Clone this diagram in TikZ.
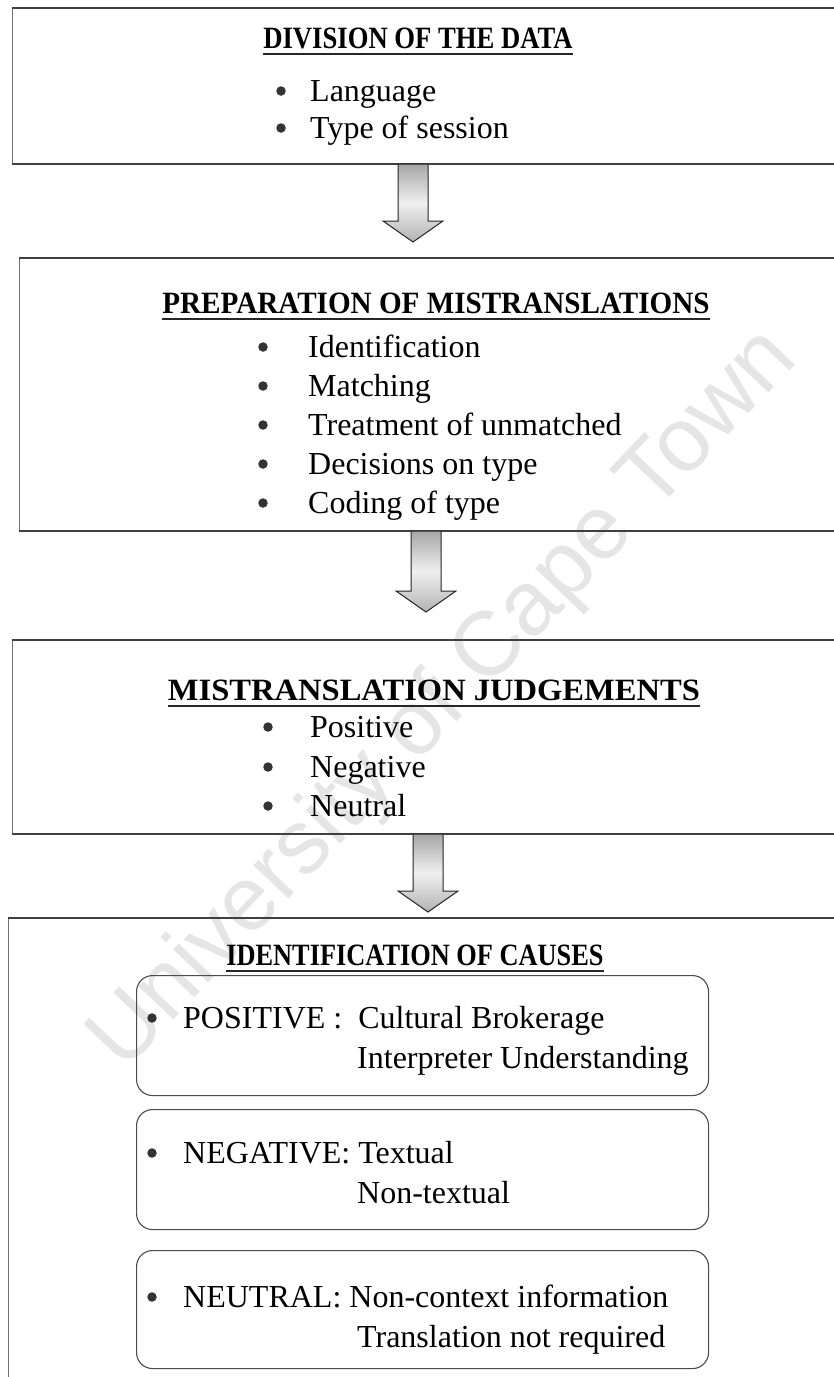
\documentclass[tikz,border=0pt]{standalone}
\usepackage{fontspec}
\setmainfont{Liberation Serif}
\newfontfamily\wmfont{Liberation Sans}
\usetikzlibrary{calc}
\newcommand\blockarrow[2]{%
  \path[arrowfill] let \p1=(#1), \p2=(#2) in
    (\x1-15pt,\y1) -- (\x1+15pt,\y1) -- (\x1+15pt,\y2+21pt) -- (\x1+30pt,\y2+21pt)
    -- (\x2,\y2) -- (\x1-30pt,\y2+21pt) -- (\x1-15pt,\y2+21pt) -- cycle;}
\begin{document}
\begin{tikzpicture}[x=1pt,y=-1pt,
  frame/.style={draw=black!55, line width=1pt, rectangle, inner sep=0pt, anchor=north west},
  edge/.style={line width=1.8pt, black!75},
  rbox/.style={draw=black!70, line width=1.1pt, rounded corners=16pt, rectangle, inner sep=0pt, anchor=north west},
  head/.style={font=\fontsize{31}{36}\selectfont\bfseries, inner sep=0pt, anchor=base},
  item/.style={font=\fontsize{32}{38}\selectfont, inner sep=0pt, anchor=base west},
  dot/.style={circle, fill=black!80, inner sep=0pt, minimum size=9.5pt},
  uline/.style={line width=2pt, black!85},
  arrowfill/.style={draw=black!85, line width=1pt, top color=gray!70, bottom color=gray!60, middle color=gray!12},
  wm/.style={font=\wmfont\fontsize{91}{91}\selectfont, text=black!10, rotate=46.5, inner sep=0pt}
]
\useasboundingbox (0,0) rectangle (834,1377);
\clip (0,0) rectangle (834,1377);
\fill[white] (0,0) rectangle (834,1377);

% watermark
\node[wm] (wm) at (445,700) {University of Cape Town};

% box 1
\node[frame, minimum width=850pt, minimum height=155pt] (b1) at (12,8) {};
\draw[edge] (b1.north west) -- (b1.north east);
\draw[edge] (b1.south west) -- (b1.south east);
\node[head] (h1) at (418,48) {\scalebox{0.86}[1]{DIVISION OF THE DATA}};
\draw[uline] ($(h1.base west)+(0,6)$) -- ($(h1.base east)+(0,6)$);
\node[dot] (d11) at (281,91) {};
\node[item] (t11) at (310,101) {Language};
\node[dot] (d12) at (281,128) {};
\node[item] (t12) at (310,138) {Type of session};

% box 2
\node[frame, minimum width=850pt, minimum height=272pt] (b2) at (19,258) {};
\draw[edge] (b2.north west) -- (b2.north east);
\draw[edge] (b2.south west) -- (b2.south east);
\node[head] (h2) at (436,313) {\scalebox{0.94}[1]{PREPARATION OF MISTRANSLATIONS}};
\draw[uline] ($(h2.base west)+(0,6)$) -- ($(h2.base east)+(0,6)$);
\foreach \y/\t [count=\i] in {357/Identification,396/Matching,435/Treatment of unmatched,474/Decisions on type,513/Coding of type}{
  \node[dot] (d2\i) at (263,\y-10) {};
  \node[item] (t2\i) at (308,\y) {\t};
}

% box 3
\node[frame, minimum width=850pt, minimum height=193pt] (b3) at (12,640) {};
\draw[edge] (b3.north west) -- (b3.north east);
\draw[edge] (b3.south west) -- (b3.south east);
\node[head] (h3) at (434,700) {\scalebox{1.05}[1]{MISTRANSLATION JUDGEMENTS}};
\draw[uline] ($(h3.base west)+(0,6)$) -- ($(h3.base east)+(0,6)$);
\foreach \y/\t [count=\i] in {737/Positive,777/Negative,816/Neutral}{
  \node[dot] (d3\i) at (268,\y-10) {};
  \node[item] (t3\i) at (310,\y) {\t};
}

% box 4
\node[frame, minimum width=850pt, minimum height=480pt] (b4) at (8,918) {};
\draw[edge] (b4.north west) -- (b4.north east);
\node[head] (h4) at (415,965) {\scalebox{0.85}[1]{IDENTIFICATION OF CAUSES}};
\draw[uline] ($(h4.base west)+(0,6)$) -- ($(h4.base east)+(0,6)$);

\node[rbox, minimum width=572pt, minimum height=120pt] (r1) at (136,975) {};
\node[dot] (dr1) at (152,1018) {};
\node[item] (p1) at (183,1028) {POSITIVE :\ \ Cultural Brokerage};
\node[item] (p2) at (357,1068) {Interpreter Understanding};

\node[rbox, minimum width=572pt, minimum height=120pt] (r2) at (136,1109) {};
\node[dot] (dr2) at (152,1153) {};
\node[item] (n1) at (183,1163) {NEGATIVE: Textual};
\node[item] (n2) at (357,1203) {Non-textual};

\node[rbox, minimum width=572pt, minimum height=118pt] (r3) at (136,1250) {};
\node[dot] (dr3) at (152,1297) {};
\node[item] (u1) at (183,1307) {NEUTRAL:\ Non-context information};
\node[item] (u2) at (357,1347) {Translation not required};

% arrows
\coordinate (a1s) at (b1.south -| 413,0);
\coordinate (a1e) at (413,242);
\blockarrow{a1s}{a1e}
\coordinate (a2s) at (b2.south -| 426,0);
\coordinate (a2e) at (426,612);
\blockarrow{a2s}{a2e}
\coordinate (a3s) at (b3.south -| 428,0);
\coordinate (a3e) at (428,912);
\blockarrow{a3s}{a3e}
\end{tikzpicture}
\end{document}
